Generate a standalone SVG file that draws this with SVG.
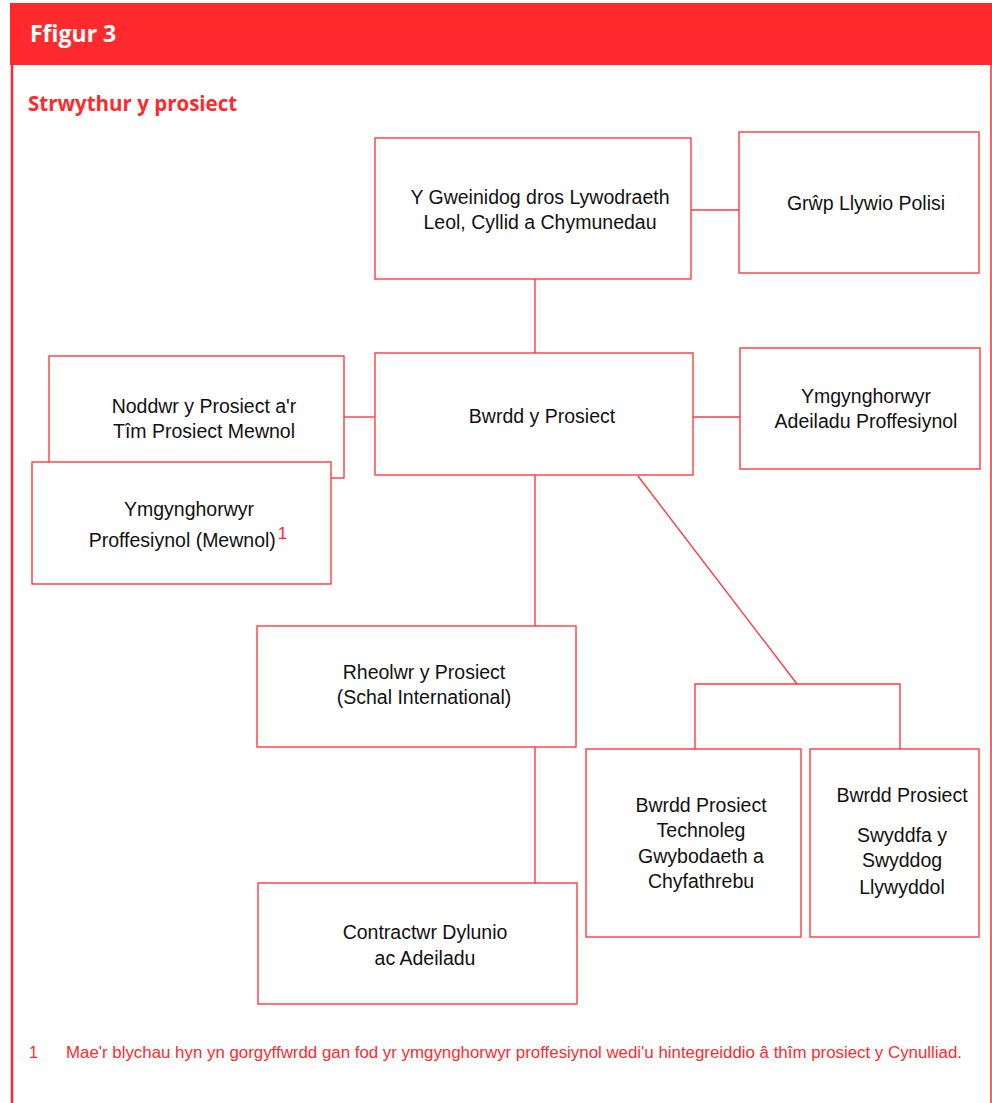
<svg xmlns="http://www.w3.org/2000/svg" width="992" height="1103" viewBox="0 0 992 1103">
<style>
.box{fill:#fff;stroke:#ff3b3f;stroke-width:1.4}
.t{font-family:"Liberation Sans",Arial,sans-serif;font-size:19.5px;fill:#111;text-anchor:middle}
.c{fill:none;stroke:#ff3b3f;stroke-width:1.4}
</style>
<rect x="0" y="0" width="992" height="1103" fill="#fff"/>
<rect x="10" y="3" width="982" height="62" fill="#fe2a2e"/>
<line x1="12" y1="65" x2="12" y2="1103" stroke="#fe2a2e" stroke-width="2.5"/>
<line x1="991" y1="65" x2="991" y2="1103" stroke="#fe2a2e" stroke-width="1.5"/>
<text x="30" y="42" font-family="'Open Sans','DejaVu Sans',sans-serif" font-weight="bold" font-size="23" fill="#fff">Ffigur 3</text>
<text x="28" y="111" font-family="'Open Sans','DejaVu Sans',sans-serif" font-weight="bold" font-size="20.5" fill="#fe2a2e">Strwythur y prosiect</text>
<g id="connectors">
<line class="c" x1="691" y1="210" x2="739" y2="210"/>
<line class="c" x1="535" y1="279" x2="535" y2="353"/>
<line class="c" x1="344" y1="417" x2="375" y2="417"/>
<line class="c" x1="693" y1="417" x2="740" y2="417"/>
<line class="c" x1="535" y1="475" x2="535" y2="626"/>
<line class="c" x1="638" y1="476" x2="797" y2="684"/>
<polyline class="c" points="695,749 695,684 900,684 900,749"/>
<line class="c" x1="535" y1="747" x2="535" y2="883"/>
</g>
<g id="minister">
<rect class="box" x="375" y="138" width="316" height="141"/>
<text class="t" x="540" y="204">Y Gweinidog dros Lywodraeth</text>
<text class="t" x="540" y="229">Leol, Cyllid a Chymunedau</text>
</g>
<g id="grwp">
<rect class="box" x="739" y="132" width="240" height="141"/>
<text class="t" x="866" y="210">Grŵp Llywio Polisi</text>
</g>
<g id="bwrdd">
<rect class="box" x="375" y="353" width="318" height="122"/>
<text class="t" x="542" y="423">Bwrdd y Prosiect</text>
</g>
<g id="adeiladu">
<rect class="box" x="740" y="348" width="240" height="121"/>
<text class="t" x="866" y="403">Ymgynghorwyr</text>
<text class="t" x="866" y="428">Adeiladu Proffesiynol</text>
</g>
<g id="noddwr">
<rect class="box" x="49" y="356" width="295" height="122"/>
<text class="t" x="204" y="413">Noddwr y Prosiect a'r</text>
<text class="t" x="204" y="438">Tîm Prosiect Mewnol</text>
</g>
<g id="mewnol">
<rect class="box" x="32" y="462" width="299" height="122"/>
<text class="t" x="189" y="516">Ymgynghorwyr</text>
<text class="t" x="188" y="547">Proffesiynol (Mewnol)<tspan dx="2" dy="-8" font-size="17" fill="#fe2a2e">1</tspan></text>
</g>
<g id="rheolwr">
<rect class="box" x="257" y="626" width="319" height="121"/>
<text class="t" x="424" y="679">Rheolwr y Prosiect</text>
<text class="t" x="424" y="704">(Schal International)</text>
</g>
<g id="contractwr">
<rect class="box" x="258" y="883" width="319" height="121"/>
<text class="t" x="425" y="939">Contractwr Dylunio</text>
<text class="t" x="425" y="965">ac Adeiladu</text>
</g>
<g id="technoleg">
<rect class="box" x="586" y="749" width="215" height="188"/>
<text class="t" x="701" y="812">Bwrdd Prosiect</text>
<text class="t" x="701" y="837">Technoleg</text>
<text class="t" x="701" y="863">Gwybodaeth a</text>
<text class="t" x="701" y="888">Chyfathrebu</text>
</g>
<g id="swyddfa">
<rect class="box" x="810" y="749" width="169" height="188"/>
<text class="t" x="902" y="802">Bwrdd Prosiect</text>
<text class="t" x="902" y="842">Swyddfa y</text>
<text class="t" x="902" y="867">Swyddog</text>
<text class="t" x="902" y="894">Llywyddol</text>
</g>
<g id="footnote" font-family="'Liberation Sans',Arial,sans-serif" font-size="16" fill="#fe2a2e">
<text x="29" y="1058">1</text>
<text x="66" y="1058" textLength="896" lengthAdjust="spacingAndGlyphs">Mae'r blychau hyn yn gorgyffwrdd gan fod yr ymgynghorwyr proffesiynol wedi'u hintegreiddio â thîm prosiect y Cynulliad.</text>
</g>
</svg>
